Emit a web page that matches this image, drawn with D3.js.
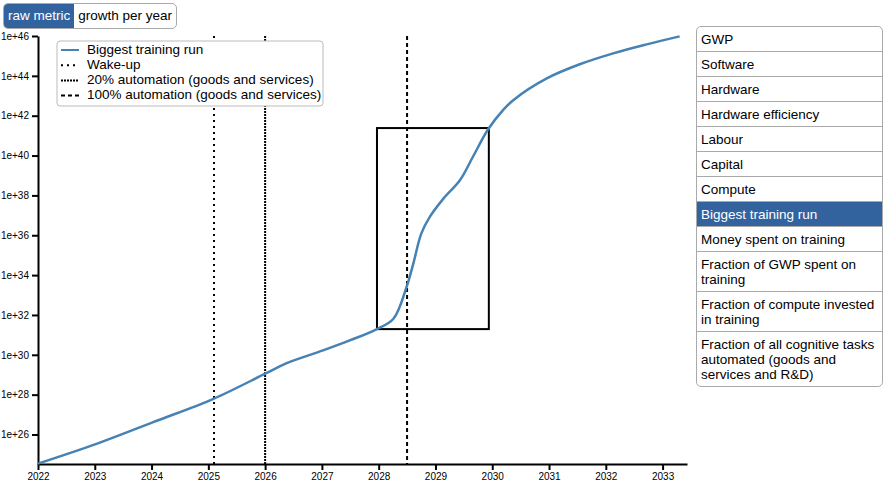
<!DOCTYPE html>
<html>
<head>
<meta charset="utf-8">
<script src="https://cdn.jsdelivr.net/npm/d3@7"></script>
<style>
  body { margin: 0; font-family: "Liberation Sans", Arial, sans-serif; background: #fff; }
  #toggle { position: absolute; left: 3px; top: 3px; display: flex; border: 1px solid #aaa; border-radius: 5px; overflow: hidden; font-size: 13.5px; }
  #toggle div { padding: 0 4px; height: 24px; line-height: 24px; }
  #toggle .on { background: #33639f; color: #fff; }
  #panel { position: absolute; left: 696px; top: 26px; width: 185px; border: 1px solid #aaa; border-radius: 5px; overflow: hidden; font-size: 13.5px; }
  #panel div { padding: 5px 4px 4px 4px; line-height: 15px; border-bottom: 1px solid #aaa; }
  #panel div:last-child { border-bottom: none; }
  #panel .on { background: #33639f; color: #fff; }
  svg { position: absolute; left: 0; top: 0; }
  .axis text { font-family: "Liberation Sans", Arial, sans-serif; font-size: 10px; }
  .axis path, .axis line { stroke-width: 2; }
</style>
</head>
<body>
<svg></svg>
<div id="toggle"></div>
<div id="panel"></div>
<script>
// series: biggest training run (log10 of FLOP)
let years = [ 2022, 2023.03, 2024.03, 2025.09, 2026.0, 2026.38, 2027.02, 2027.49, 2027.96, 2028.26, 2028.49, 2028.61, 2028.75, 2028.9, 2029.14, 2029.43, 2029.66, 2029.93, 2030.19, 2030.37, 2030.96, 2031.54, 2032.13, 2032.72, 2033.3 ]
let trainingRunLog10 = [ 24.54, 25.53, 26.62, 27.79, 29.05, 29.58, 30.22, 30.72, 31.28, 31.81, 33.4, 34.58, 36.08, 36.92, 37.84, 38.76, 39.94, 41.33, 42.28, 42.78, 43.87, 44.58, 45.13, 45.58, 45.98 ]

let eventLabels = [ 'Wake-up', '20% automation (goods and services)', '100% automation (goods and services)' ]
let eventYears = [ 2025.1, 2026.0, 2028.5 ]

// highlighted window
let boxYears = [ 2027.97, 2029.94 ]
let boxLog10 = [ 31.29, 41.38 ]

let xTicks = [ 2022, 2023, 2024, 2025, 2026, 2027, 2028, 2029, 2030, 2031, 2032, 2033 ]
let yTickExps = [ 26, 28, 30, 32, 34, 36, 38, 40, 42, 44, 46 ]

let modes = [ 'raw metric', 'growth per year' ]
let metrics = [ 'GWP', 'Software', 'Hardware', 'Hardware efficiency', 'Labour', 'Capital', 'Compute', 'Biggest training run', 'Money spent on training', 'Fraction of GWP spent on training', 'Fraction of compute invested in training', 'Fraction of all cognitive tasks automated (goods and services and R&D)' ]
let selectedMetric = 'Biggest training run'

let eventDashes = [ '2,4', '2,1', '4,3' ]

let width = 887
let height = 489
let margin = { left: 38, right: 687, top: 36, bottom: 464 }

d3.select( '#toggle' ).selectAll( 'div' )
  .data( modes )
  .enter()
  .append( 'div' )
  .attr( 'class', ( d, i ) => i === 0 ? 'on' : null )
  .text( d => d )

d3.select( '#panel' ).selectAll( 'div' )
  .data( metrics )
  .enter()
  .append( 'div' )
  .attr( 'class', d => d === selectedMetric ? 'on' : null )
  .text( d => d )

const xScale =
d3.scaleLinear()
  .domain( [ 2022, 2033.43 ] )
  .range( [ margin.left, margin.right ] )

const yScale =
d3.scaleLog()
  .domain( [ Math.pow( 10, 24.52 ), 1e46 ] )
  .range( [ margin.bottom, margin.top ] )

let chart =
d3.select( 'svg' )
  .attr( 'width', width )
  .attr( 'height', height )

let points = years.map( ( y, i ) => ( { year: y, value: Math.pow( 10, trainingRunLog10[ i ] ) } ) )

chart.append( 'g' )
  .attr( 'class', 'axis' )
  .attr( 'transform', `translate(0,${ margin.bottom })` )
  .call( d3.axisBottom( xScale ).tickValues( xTicks ).tickFormat( d3.format( 'd' ) ).tickSizeOuter( 0 ) )

chart.append( 'g' )
  .attr( 'class', 'axis' )
  .attr( 'transform', `translate(${ margin.left },0)` )
  .call( d3.axisLeft( yScale ).tickValues( yTickExps.map( e => Math.pow( 10, e ) ) ).tickFormat( ( d, i ) => '1e+' + yTickExps[ i ] ).tickSizeOuter( 0 ) )

// event lines
chart.selectAll( '.event' )
  .data( eventYears )
  .enter()
  .append( 'line' )
  .attr( 'class', 'event' )
  .attr( 'x1', d => xScale( d ) )
  .attr( 'x2', d => xScale( d ) )
  .attr( 'y1', margin.top )
  .attr( 'y2', margin.bottom )
  .attr( 'stroke', '#000' )
  .attr( 'stroke-width', 2 )
  .attr( 'stroke-dasharray', ( d, i ) => eventDashes[ i ] )

chart.append( 'rect' )
  .attr( 'x', xScale( boxYears[ 0 ] ) )
  .attr( 'y', yScale( Math.pow( 10, boxLog10[ 1 ] ) ) )
  .attr( 'width', xScale( boxYears[ 1 ] ) - xScale( boxYears[ 0 ] ) )
  .attr( 'height', yScale( Math.pow( 10, boxLog10[ 0 ] ) ) - yScale( Math.pow( 10, boxLog10[ 1 ] ) ) )
  .attr( 'fill', 'none' )
  .attr( 'stroke', '#000' )
  .attr( 'stroke-width', 2 )

let line =
d3.line()
  .x( d => xScale( d.year ) )
  .y( d => yScale( d.value ) )
  .curve( d3.curveCatmullRom.alpha( 0.5 ) )

chart.append( 'path' )
  .datum( points )
  .attr( 'd', line )
  .attr( 'fill', 'none' )
  .attr( 'stroke', 'steelblue' )
  .attr( 'stroke-width', 2.5 )

// legend
let legend =
chart.append( 'g' )
  .attr( 'transform', 'translate(57,41)' )

legend.append( 'rect' )
  .attr( 'width', 266 )
  .attr( 'height', 65 )
  .attr( 'rx', 3 )
  .attr( 'fill', '#fff' )
  .attr( 'stroke', '#bbb' )

let legendItems = [ 'Biggest training run' ].concat( eventLabels )
let legendStroke = [ 'steelblue', '#000', '#000', '#000' ]
let legendDash = [ null ].concat( eventDashes )

let rows =
legend.selectAll( '.item' )
  .data( legendItems )
  .enter()
  .append( 'g' )
  .attr( 'class', 'item' )
  .attr( 'transform', ( d, i ) => `translate(0,${ 9 + i * 15.2 })` )

rows.append( 'line' )
  .attr( 'x1', 4 )
  .attr( 'x2', 22 )
  .attr( 'stroke', ( d, i ) => legendStroke[ i ] )
  .attr( 'stroke-width', 2 )
  .attr( 'stroke-dasharray', ( d, i ) => legendDash[ i ] )

rows.append( 'text' )
  .text( d => d )
  .attr( 'x', 30 )
  .attr( 'dominant-baseline', 'middle' )
  .attr( 'font-size', 13.5 )
  .attr( 'font-family', '"Liberation Sans", Arial, sans-serif' )
</script>
</body>
</html>
